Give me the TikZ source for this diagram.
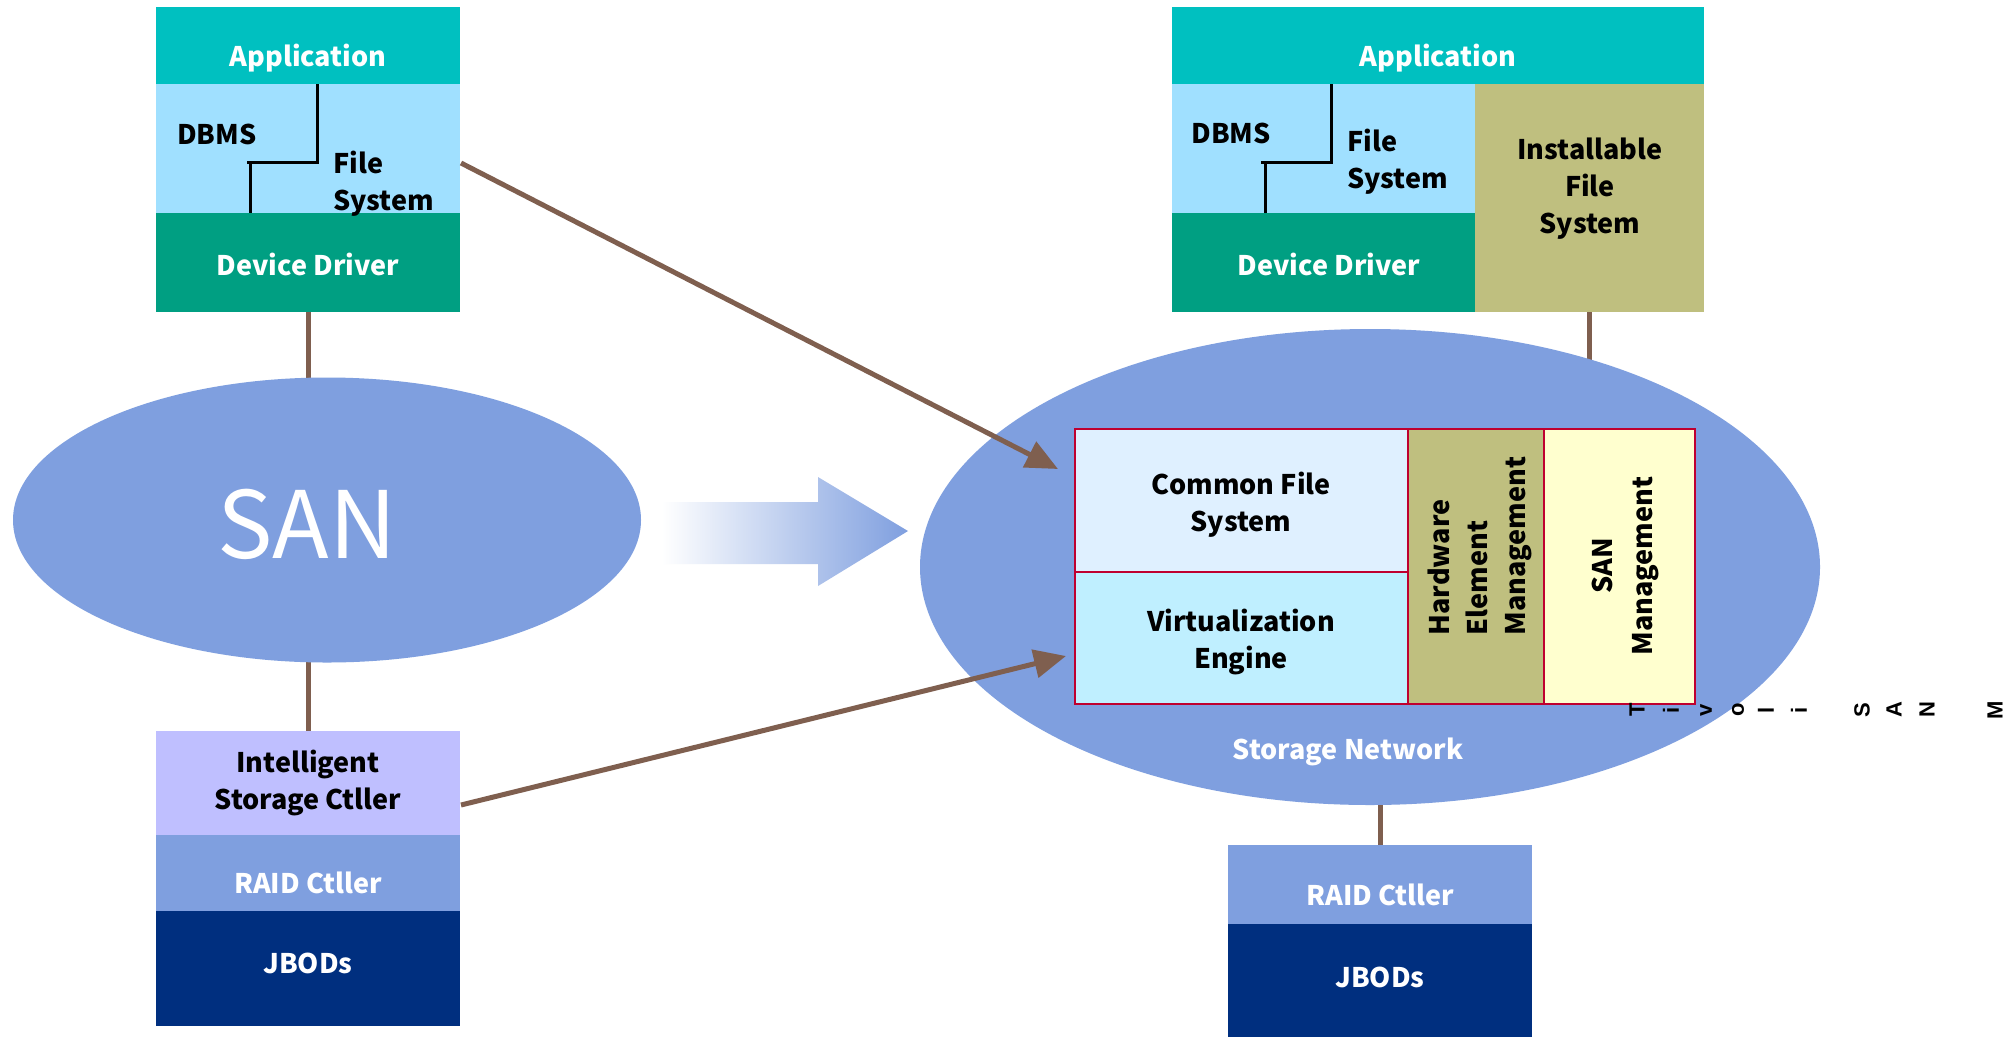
\documentclass[tikz,border=0pt]{standalone}
\usepackage{fontspec}
\setmainfont{Noto Sans CJK JP}
\newfontfamily\arialf{Liberation Sans}
\usetikzlibrary{arrows.meta,shapes.geometric}
\definecolor{appc}{HTML}{00C0C0}
\definecolor{ltbl}{HTML}{A0E0FF}
\definecolor{ddc}{HTML}{009F82}
\definecolor{ifsc}{HTML}{BFBF7F}
\definecolor{sanc}{HTML}{7F9FDF}
\definecolor{iscc}{HTML}{BFBFFF}
\definecolor{jbc}{HTML}{002F7F}
\definecolor{cfsc}{HTML}{DFF0FF}
\definecolor{vec}{HTML}{BFEFFF}
\definecolor{smc}{HTML}{FFFFCF}
\definecolor{bordc}{HTML}{BF002F}
\definecolor{brn}{HTML}{7F5F4F}
\pgfdeclarelayer{bg}
\pgfsetlayers{bg,main}
\tikzset{
  box/.style={rectangle, draw=none, inner sep=0pt, outer sep=0pt, anchor=north west},
  lbl/.style={inner sep=0pt, font=\bfseries\fontsize{27}{37}\selectfont, align=center},
  wl/.style={lbl, text=white},
  conn/.style={draw=brn, line width=5pt},
  arr/.style={draw=brn, line width=5pt, -{Triangle[length=32pt,width=28pt]}},
  inbox/.style={box, draw=bordc, line width=2pt},
  divl/.style={draw=black, line width=3pt},
  tiv/.style={inner sep=0pt, rotate=90, font=\arialf\bfseries\fontsize{22}{22}\selectfont}
}
\begin{document}
\begin{tikzpicture}[x=1pt,y=-1pt]
\useasboundingbox (0,0) rectangle (2004,1037);
\clip (0,0) rectangle (2004,1037);
\begin{pgfonlayer}{bg}
\fill[white] (0,0) rectangle (2004,1037);
\end{pgfonlayer}

% left host stack
\node[box, fill=appc, minimum width=304pt, minimum height=77pt] (app1) at (156,7) {};
\node[box, fill=ltbl, minimum width=304pt, minimum height=129pt] (mid1) at (156,84) {};
\node[box, fill=ddc, minimum width=304pt, minimum height=99pt] (dd1) at (156,213) {};
\node[wl] (app1t) at (308,58) {Application};
\node[wl] (dd1t) at (308,264) {Device Driver};
\node[lbl] (dbms1) at (217,134) {DBMS};
\node[lbl, anchor=west, align=left] (fs1) at (333,184) {File\\System};
\draw[divl] (317,84) |- (247,162);
\draw[divl] (250,162) -- (250,213);

% left SAN
\node[ellipse, fill=sanc, inner sep=0pt, minimum width=628pt, minimum height=285pt] (san) at (327,520) {};
\node[inner sep=0pt, text=white, font=\fontsize{93}{93}\selectfont] (santxt) at (307,524) {SAN};

% left storage stack
\node[box, fill=iscc, minimum width=304pt, minimum height=104pt] (isc) at (156,731) {};
\node[box, fill=sanc, minimum width=304pt, minimum height=76pt] (raid1) at (156,835) {};
\node[box, fill=jbc, minimum width=304pt, minimum height=115pt] (jbod1) at (156,911) {};
\node[lbl] (isct) at (308,783) {Intelligent\\Storage Ctller};
\node[wl] (raid1t) at (308,883) {RAID Ctller};
\node[wl] (jbod1t) at (308,963) {JBODs};

% gradient arrow
\shade[left color=white, right color=sanc] (662,502) -- (818,502) -- (818,477) -- (908,531) -- (818,586) -- (818,564) -- (662,564) -- cycle;

% right host stack
\node[box, fill=appc, minimum width=532pt, minimum height=77pt] (app2) at (1172,7) {};
\node[box, fill=ltbl, minimum width=303pt, minimum height=129pt] (mid2) at (1172,84) {};
\node[box, fill=ddc, minimum width=303pt, minimum height=99pt] (dd2) at (1172,213) {};
\node[box, fill=ifsc, minimum width=229pt, minimum height=228pt] (ifs) at (1475,84) {};
\node[wl] (app2t) at (1438,58) {Application};
\node[wl] (dd2t) at (1329,264) {Device Driver};
\node[lbl] (ifstxt) at (1590,189) {Installable\\File\\System};
\node[lbl] (dbms2) at (1231,133) {DBMS};
\node[lbl, anchor=west, align=left] (fs2) at (1347,162) {File\\System};
\draw[divl] (1331,84) |- (1261,162);
\draw[divl] (1265,162) -- (1265,213);

% storage network
\node[ellipse, fill=sanc, inner sep=0pt, minimum width=900pt, minimum height=476pt] (net) at (1370,567) {};
\node[wl, font=\bfseries\fontsize{27}{30}\selectfont] (nettxt) at (1348,752) {Storage Network};

\node[inbox, fill=cfsc, minimum width=333pt, minimum height=143pt] (cfs) at (1075,429) {};
\node[lbl] (cfst) at (1241,505) {Common File\\System};
\node[inbox, fill=vec, minimum width=333pt, minimum height=132pt] (ve) at (1075,572) {};
\node[lbl] (vet) at (1241,642) {Virtualization\\Engine};
\node[inbox, fill=ifsc, minimum width=136pt, minimum height=275pt] (hem) at (1408,429) {};
\node[lbl, rotate=90, align=left, font=\bfseries\fontsize{27}{38}\selectfont] (hemtxt) at (1480,546) {Hardware\\Element\\Management};
\node[inbox, fill=smc, minimum width=151pt, minimum height=275pt] (sanm) at (1544,429) {};
\node[lbl, rotate=90, font=\bfseries\fontsize{27}{40}\selectfont] (sanmtxt) at (1625,566) {SAN\\Management};

% right storage stack
\node[box, fill=sanc, minimum width=304pt, minimum height=79pt] (raid2) at (1228,845) {};
\node[box, fill=jbc, minimum width=304pt, minimum height=113pt] (jbod2) at (1228,924) {};
\node[wl] (raid2t) at (1380,895) {RAID Ctller};
\node[wl] (jbod2t) at (1380,977) {JBODs};

% Tivoli SAN M letters
\foreach \ch/\xx in {T/1637, i/1671, v/1706, o/1738, l/1766, i/1799, S/1862, A/1894, N/1927, M/1995}
  \node[tiv] at (\xx,710) {\ch};

% vertical connectors (behind)
\begin{pgfonlayer}{bg}
\draw[conn] (dd1.south) -- (dd1.south |- san.center);
\draw[conn] (isc.north |- san.center) -- (isc.north);
\draw[conn] (ifs.south) -- (ifs.south |- net.center);
\draw[conn] (net.center -| raid2.north) -- (raid2.north);
\end{pgfonlayer}

% brown arrows
\coordinate (a1s) at (461,163);
\coordinate (a1e) at (1058,469);
\coordinate (a2s) at (461,805);
\coordinate (a2e) at (1066,656);
\draw[arr] (a1s) -- (a1e);
\draw[arr] (a2s) -- (a2e);
\end{tikzpicture}
\end{document}
